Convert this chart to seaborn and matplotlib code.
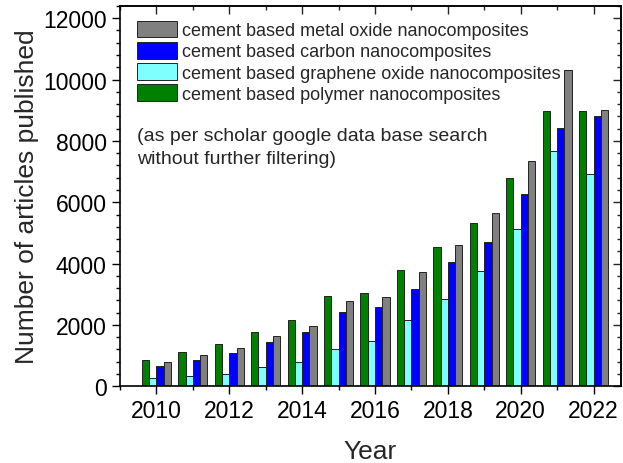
import numpy as np
import pandas as pd
import matplotlib
matplotlib.use("Agg")
import matplotlib.pyplot as plt
import seaborn as sns
from matplotlib.ticker import MultipleLocator

# Publication counts per year (Google Scholar search)
years = [2010, 2011, 2012, 2013, 2014, 2015, 2016, 2017, 2018, 2019, 2020, 2021, 2022]
polymer = [870, 1120, 1380, 1780, 2170, 2930, 3050, 3800, 4540, 5330, 6790, 8970, 8970]
graphene_oxide = [280, 350, 410, 620, 780, 1230, 1470, 2160, 2840, 3750, 5120, 7670, 6930]
carbon = [650, 870, 1090, 1450, 1780, 2410, 2570, 3180, 4050, 4690, 6260, 8430, 8820]
metal_oxide = [780, 1020, 1240, 1630, 1970, 2770, 2900, 3720, 4600, 5660, 7340, 10310, 9010]

series_names = [
    "cement based polymer nanocomposites",
    "cement based graphene oxide nanocomposites",
    "cement based carbon nanocomposites",
    "cement based metal oxide nanocomposites",
]
series_values = [polymer, graphene_oxide, carbon, metal_oxide]
series_colors = ["#008000", "#80FFFF", "#0000FF", "#808080"]

df = pd.DataFrame({
    "Year": np.tile(years, len(series_names)),
    "Articles": np.concatenate(series_values),
    "Type": np.repeat(series_names, len(years)),
})

sns.set_theme(style="white")
plt.rcParams["font.family"] = ["Liberation Sans", "DejaVu Sans"]

fig = plt.figure(figsize=(6.23, 4.64), dpi=100)
ax = fig.add_axes([0.1926, 0.1653, 0.804, 0.8197])

sns.barplot(
    data=df, x="Year", y="Articles", hue="Type",
    hue_order=series_names, palette=series_colors,
    native_scale=True, width=0.8, saturation=1,
    edgecolor="#222222", linewidth=0.7, ax=ax,
)

ax.set_xlim(2009.0, 2022.75)
ax.set_ylim(0, 12400)
ax.xaxis.set_major_locator(MultipleLocator(2))
ax.xaxis.set_minor_locator(MultipleLocator(1))
ax.yaxis.set_major_locator(MultipleLocator(2000))
ax.yaxis.set_minor_locator(MultipleLocator(400))
ax.xaxis.set_major_formatter(matplotlib.ticker.FormatStrFormatter("%d"))

ax.tick_params(which="both", direction="out", colors="black", labelsize=16.5,
               bottom=True, left=True, top=False, right=False)
ax.tick_params(which="major", length=6, width=1)
ax.tick_params(which="minor", length=3, width=1)
for s in ax.spines.values():
    s.set_visible(True)
    s.set_color("black")
    s.set_linewidth(1.2)

# mirrored inward ticks on the top and right edges
top = ax.secondary_xaxis("top")
top.xaxis.set_major_locator(MultipleLocator(2))
top.xaxis.set_minor_locator(MultipleLocator(1))
top.tick_params(which="both", direction="in", labeltop=False, width=1)
top.tick_params(which="major", length=6)
top.tick_params(which="minor", length=3)
right = ax.secondary_yaxis("right")
right.yaxis.set_major_locator(MultipleLocator(2000))
right.yaxis.set_minor_locator(MultipleLocator(400))
right.tick_params(which="both", direction="in", labelright=False, width=1)
right.tick_params(which="major", length=6)
right.tick_params(which="minor", length=3)

ax.set_xlabel("Year", fontsize=19, labelpad=12)
ax.set_ylabel("Number of articles published", fontsize=19, labelpad=3)

handles, labels = ax.get_legend_handles_labels()
ax.legend(handles[::-1], labels[::-1], loc="upper left",
          bbox_to_anchor=(0.012, 0.99), frameon=False, fontsize=13,
          handlelength=2.2, handleheight=1.05, handletextpad=0.3,
          labelspacing=0.15, borderaxespad=0.2)

ax.text(0.034, 0.681, "(as per scholar google data base search\nwithout further filtering)",
        transform=ax.transAxes, fontsize=14, va="top", ha="left", linespacing=1.42)

fig.savefig("out.png", dpi=100)
